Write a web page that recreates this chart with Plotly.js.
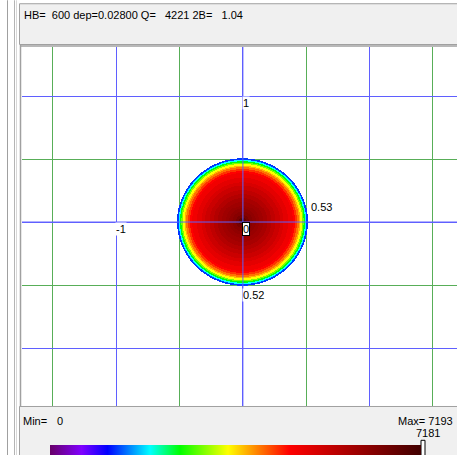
<!DOCTYPE html>
<html>
<head>
<meta charset="utf-8">
<script src="https://cdn.plot.ly/plotly-3.0.1.min.js"></script>
<style>html,body{margin:0;padding:0;background:#fff;overflow:hidden}</style>
</head>
<body>
<div id="chart" style="width:457px;height:455px"></div>
<script>
// ---- data ----
const HB = 600;
const dep = "0.02800";
const Q = 4221;
const twoB = "1.04";
const semiAxisX = 0.53;   // label on the right of the contact
const semiAxisY = 0.52;   // label under the contact
const minVal = 0;
const maxVal = 7193;
const peakVal = 7181;
// radial profile of the contact pressure (fraction of semi-axis -> value)
const ringFrac = [0, 0.02, 0.04, 0.06, 0.10, 0.15, 0.20, 0.25, 0.31, 0.37, 0.43, 0.49, 0.56, 0.61, 0.68, 0.75, 0.78, 0.81, 0.84, 0.86, 0.89, 0.91, 0.93, 0.95];
const ringVal  = [7181, 7000, 6750, 6450, 6250, 6120, 6020, 5920, 5810, 5660, 5500, 5340, 5160, 5000, 4830, 4640, 4400, 4100, 3800, 3450, 2950, 2500, 1950, 1300];
const edgeFrac = 0.975;
const gridMarks = [{x: 0, y: 1, t: "1"}, {x: -1, y: 0, t: "-1"}];

// ---- layout helpers (pixel -> paper) ----
const L = 22, T = 47, W = 435, H = 361;
const px = x => (x - L) / W;
const py = y => (T + H - y) / H;
const unit = 126.7;
const cx = 242.9, cy = 223;
const xr = [(L - cx) / unit, (L + W - cx) / unit];
const yr = [(cy - T - H) / unit, (cy - T) / unit];

const d = 1 / unit;
const xs = [], ys = [];
for (let k = -68; k <= 68; k++) { xs.push(k * d); ys.push(k * d); }
const z = ys.map(y => xs.map(x => {
  const rho = Math.hypot(x / semiAxisX, y / semiAxisY);
  if (rho >= edgeFrac) return null;
  let v = null;
  for (let i = 0; i < ringFrac.length; i++) if (rho >= ringFrac[i]) v = ringVal[i];
  return v;
}));

const colorscale = [
  [0, '#680068'], [0.085, '#8000ff'], [0.155, '#0000ff'], [0.27, '#00ffff'],
  [0.35, '#00ff00'], [0.48, '#ffff00'], [0.56, '#ff8000'], [0.645, '#ff0000'],
  [1, '#400000']
];

const BLUE = '#5f5fff', GREEN = '#58ae58', GRAY = '#a0a0a0', PANEL = '#f0f0f0';
const nb = s => s.replace(/ /g, '\u00a0');
const font = {family: 'Liberation Sans, Arial, sans-serif', size: 11, color: '#000'};

const trace = {
  type: 'heatmap', x: xs, y: ys, z: z, zmin: minVal, zmax: maxVal,
  colorscale: colorscale, zsmooth: false, hoverinfo: 'skip',
  colorbar: {
    orientation: 'h', lenmode: 'pixels', len: 371, thickness: 10,
    x: px(50), xanchor: 'left', y: py(447.5), yanchor: 'top',
    xpad: 0, ypad: 0, outlinewidth: 0, borderwidth: 0,
    showticklabels: false, ticks: ''
  }
};

const shapes = [
  // window chrome
  {type: 'line', xref: 'paper', yref: 'paper', x0: px(7.5), x1: px(7.5), y0: py(0), y1: py(460), line: {color: GRAY, width: 1}},
  {type: 'line', xref: 'paper', yref: 'paper', x0: px(14.5), x1: px(14.5), y0: py(0), y1: py(460), line: {color: '#b4b4b4', width: 1}},
  {type: 'line', xref: 'paper', yref: 'paper', x0: px(16.5), x1: px(16.5), y0: py(0), y1: py(460), line: {color: '#d8d8d8', width: 1}},
  {type: 'rect', xref: 'paper', yref: 'paper', x0: px(19.5), x1: px(470), y0: py(3.5), y1: py(44.5), fillcolor: PANEL, line: {color: GRAY, width: 1}},
  {type: 'rect', xref: 'paper', yref: 'paper', x0: px(19.5), x1: px(470), y0: py(408.5), y1: py(470), fillcolor: PANEL, line: {color: GRAY, width: 1}},
  {type: 'line', xref: 'paper', yref: 'paper', x0: px(20.5), x1: px(20.5), y0: py(45), y1: py(409), line: {color: GRAY, width: 1.5}},
  {type: 'line', xref: 'paper', yref: 'paper', x0: px(20), x1: px(470), y0: py(46), y1: py(46), line: {color: GRAY, width: 1.5}},
  // center axes drawn over the contact
  {type: 'line', xref: 'x', yref: 'paper', x0: 0, x1: 0, y0: 0, y1: 1, line: {color: BLUE, width: 1}, layer: 'above'},
  {type: 'line', xref: 'paper', yref: 'y', x0: 0, x1: 1, y0: 0, y1: 0, line: {color: BLUE, width: 1}, layer: 'above'},
  // max marker on the colour bar
  {type: 'rect', xref: 'paper', yref: 'paper', x0: px(421), x1: px(425), y0: py(442.5), y1: py(462), fillcolor: '#fff', line: {color: '#000', width: 1}}
];

const annotations = [
  {xref: 'paper', yref: 'paper', x: px(22), y: py(14.5), xanchor: 'left', yanchor: 'middle', showarrow: false, font: font,
   text: nb('HB=  ' + HB + ' dep=' + dep + ' Q=   ' + Q + ' 2B=   ' + twoB)},
  {xref: 'paper', yref: 'paper', x: px(21), y: py(423), xanchor: 'left', yanchor: 'middle', showarrow: false, font: font, text: 'Min='},
  {xref: 'paper', yref: 'paper', x: px(55), y: py(423), xanchor: 'left', yanchor: 'middle', showarrow: false, font: font, text: String(minVal)},
  {xref: 'paper', yref: 'paper', x: px(455), y: py(423), xanchor: 'right', yanchor: 'middle', showarrow: false, font: font, text: nb('Max= ' + maxVal)},
  {xref: 'paper', yref: 'paper', x: px(427.5), y: py(435), xanchor: 'center', yanchor: 'middle', showarrow: false, font: font, text: String(peakVal)},
  {xref: 'x', yref: 'y', x: 0, y: 0, xanchor: 'left', yanchor: 'top', showarrow: false, font: font, text: '0',
   bgcolor: '#fff', bordercolor: '#000', borderwidth: 1, borderpad: 0, xshift: -0.5},
  {xref: 'x', yref: 'y', x: semiAxisX, y: 15.5 / unit, xanchor: 'left', yanchor: 'middle', showarrow: false, font: font,
   text: semiAxisX.toFixed(2), bgcolor: '#fff', borderpad: 0},
  {xref: 'x', yref: 'y', x: 0, y: -semiAxisY, xanchor: 'left', yanchor: 'top', showarrow: false, font: font,
   text: semiAxisY.toFixed(2), bgcolor: '#fff', borderpad: 0, xshift: -1}
].concat(gridMarks.map(g => ({xref: 'x', yref: 'y', x: g.x, y: g.y, xanchor: 'left', yanchor: 'top', showarrow: false,
   font: font, text: g.t, bgcolor: '#fff', borderpad: 0, xshift: -1})));

const axisBase = {
  showticklabels: false, ticks: '', showline: false, zeroline: false,
  tickmode: 'linear', tick0: 0, dtick: 1, showgrid: true, gridcolor: BLUE, gridwidth: 1,
  minor: {tickmode: 'linear', tick0: 0, dtick: 0.5, showgrid: true, gridcolor: GREEN, gridwidth: 1},
  fixedrange: true
};

const layout = {
  width: 457, height: 455, autosize: false,
  margin: {l: L, r: 457 - L - W, t: T, b: 455 - T - H, pad: 0},
  paper_bgcolor: '#fff', plot_bgcolor: '#fff',
  xaxis: Object.assign({}, axisBase, {range: xr}),
  yaxis: Object.assign({}, axisBase, {range: yr}),
  shapes: shapes, annotations: annotations, showlegend: false
};

Plotly.newPlot('chart', [trace], layout, {staticPlot: true, displayModeBar: false});
</script>
</body>
</html>
